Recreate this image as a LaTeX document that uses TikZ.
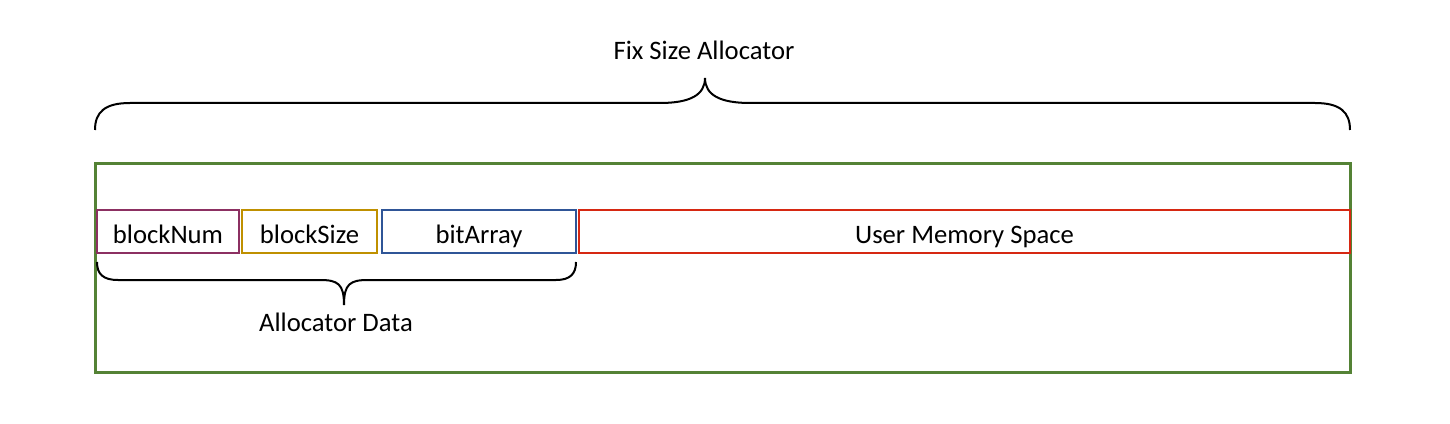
\documentclass[tikz,border=0pt]{standalone}
\usepackage{fontspec}
\setmainfont{Carlito}
\definecolor{cgreen}{RGB}{84,130,53}
\definecolor{cpurple}{RGB}{140,48,98}
\definecolor{cgold}{RGB}{191,144,0}
\definecolor{cblue}{RGB}{47,85,151}
\definecolor{cred}{RGB}{214,40,18}
\begin{document}
\begin{tikzpicture}[x=0.75pt,y=-0.75pt,
  txt/.style={font=\fontsize{20}{24}\selectfont, inner sep=0pt},
  field/.style={draw, line width=1.5pt, minimum height=32.25pt, inner sep=0pt, text height=18pt, text depth=-2pt, font=\fontsize{20}{24}\selectfont},
  bracepath/.style={draw=black, line width=1.5pt}]
\useasboundingbox (0,0) rectangle (1450,424);
\node[draw=cgreen, line width=2.25pt, minimum width=941.25pt, minimum height=156pt, inner sep=0pt] (outer) at (722.5,268) {};
\node[field, draw=cpurple, minimum width=106.5pt] (bn) at (168,231.5) {blockNum};
\node[field, draw=cgold, minimum width=101.25pt] (bs) at (309.5,231.5) {blockSize};
\node[field, draw=cblue, minimum width=145.5pt] (ba) at (479,231.5) {bitArray};
\node[field, draw=cred, minimum width=578.25pt] (um) at (964.5,231.5) {User Memory Space};
\node[txt] (title) at (704,50) {Fix Size Allocator};
\node[txt] (adata) at (336,322) {Allocator Data};
% top brace
\coordinate (tl) at (95,130);
\coordinate (tr) at (1350,130);
\coordinate (tt) at (705,78);
\path[bracepath] (tl) .. controls (95,112) and (105,103) .. (130,103)
  -- (660,103) .. controls (690,103) and (705,95) .. (tt)
  .. controls (705,95) and (720,103) .. (750,103)
  -- (1315,103) .. controls (1340,103) and (1350,112) .. (tr);
% bottom brace
\coordinate (bl) at (97,262);
\coordinate (br) at (576,262);
\coordinate (bt) at (344,305);
\path[bracepath] (bl) .. controls (97,274) and (103,280) .. (118,280)
  -- (320,280) .. controls (338,280) and (344,284) .. (bt)
  .. controls (344,284) and (350,280) .. (368,280)
  -- (556,280) .. controls (570,280) and (576,274) .. (br);
\end{tikzpicture}
\end{document}
